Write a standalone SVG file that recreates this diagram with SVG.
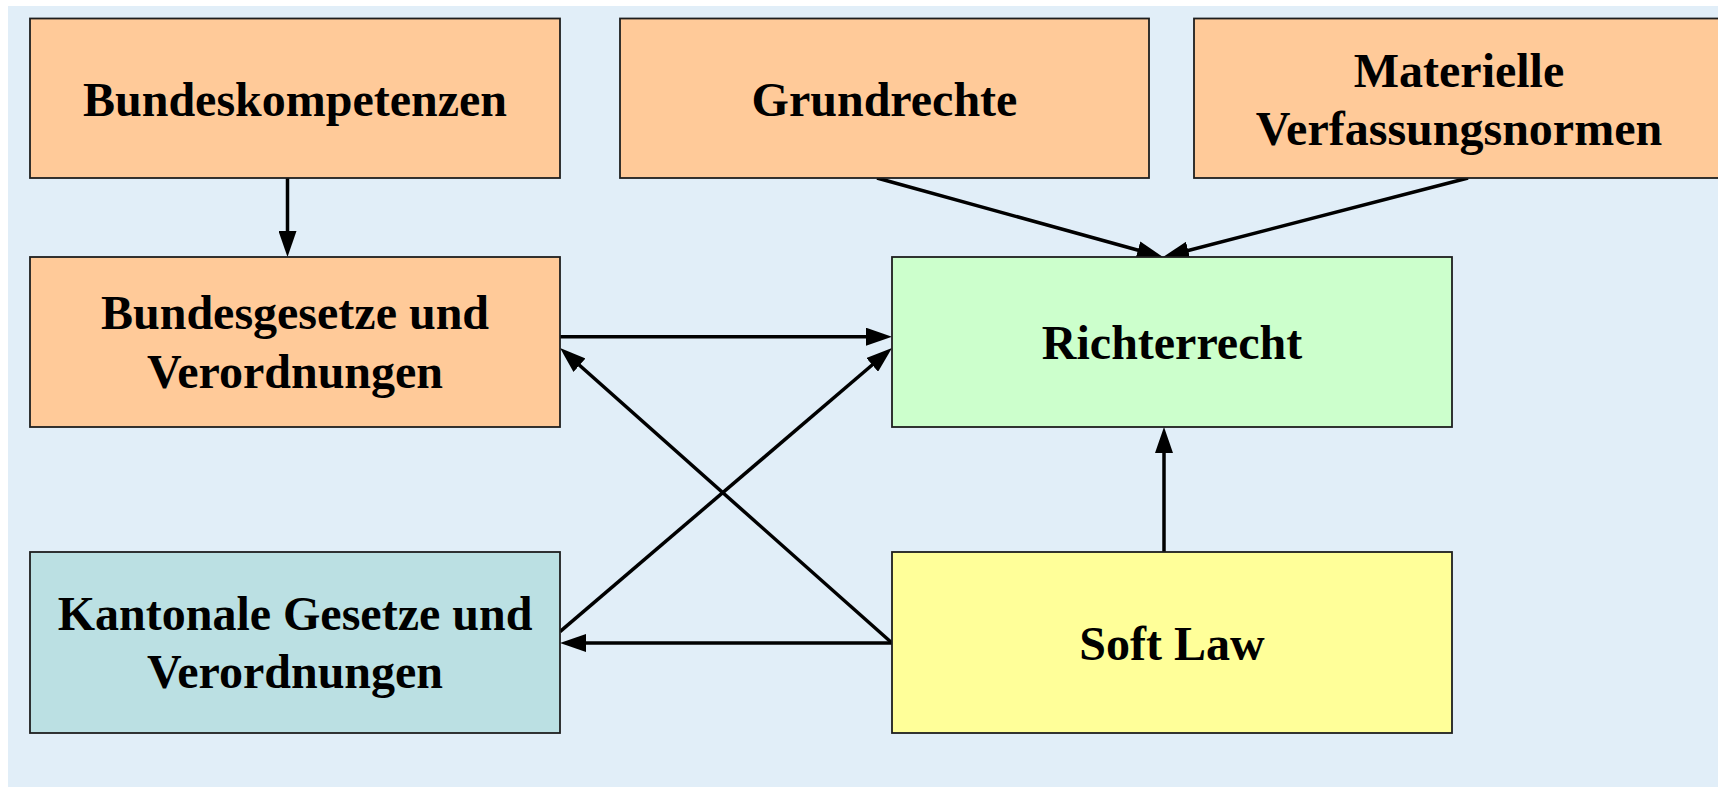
<svg xmlns="http://www.w3.org/2000/svg" width="1718" height="788" viewBox="0 0 1718 788">
<style>
.box{stroke:#1e1e1e;stroke-width:1.8}
.orange{fill:#FFCA99}
.green{fill:#CCFFCC}
.teal{fill:#BBE0E3}
.yellow{fill:#FFFF99}
.lbl{font-family:"Liberation Serif","Times New Roman",serif;font-weight:bold;font-size:48px;fill:#000;text-anchor:middle}
.con{stroke:#000;stroke-width:3.5;fill:none;marker-end:url(#ah)}
</style>
<defs>
<marker id="ah" markerUnits="userSpaceOnUse" markerWidth="26" markerHeight="18" refX="6" refY="9" orient="auto">
<path d="M0,0 L26,9 L0,18 Z" fill="#000"/>
</marker>
</defs>
<rect x="0" y="0" width="1718" height="788" fill="#ffffff"/>
<rect x="8" y="6" width="1710" height="781" fill="#E1EEF8"/>
<g id="connectors">
<line class="con" x1="287.5" y1="178" x2="287.5" y2="237"/>
<line class="con" x1="560" y1="336.7" x2="872" y2="336.7"/>
<line class="con" x1="877" y1="178" x2="1143.7" y2="251.7"/>
<line class="con" x1="1468" y1="178" x2="1182.4" y2="252"/>
<line class="con" x1="560" y1="631.7" x2="876.8" y2="361"/>
<line class="con" x1="892" y1="643" x2="575" y2="361.3"/>
<line class="con" x1="892" y1="643" x2="580" y2="643"/>
<line class="con" x1="1164" y1="553" x2="1164" y2="447"/>
</g>
<g id="bundeskompetenzen">
<rect class="box orange" x="30" y="18.5" width="530" height="159.5"/>
<text class="lbl" x="295" y="116">Bundeskompetenzen</text>
</g>
<g id="grundrechte">
<rect class="box orange" x="620" y="18.5" width="529" height="159.5"/>
<text class="lbl" x="884.5" y="116">Grundrechte</text>
</g>
<g id="materielle">
<rect class="box orange" x="1194" y="18.5" width="530" height="159.5"/>
<text class="lbl" x="1459" y="87">Materielle</text>
<text class="lbl" x="1459" y="145">Verfassungsnormen</text>
</g>
<g id="bundesgesetze">
<rect class="box orange" x="30" y="257" width="530" height="170"/>
<text class="lbl" x="295" y="329">Bundesgesetze und</text>
<text class="lbl" x="295" y="388">Verordnungen</text>
</g>
<g id="richterrecht">
<rect class="box green" x="892" y="257" width="560" height="170"/>
<text class="lbl" x="1172" y="359">Richterrecht</text>
</g>
<g id="kantonale">
<rect class="box teal" x="30" y="552" width="530" height="181"/>
<text class="lbl" x="295" y="630">Kantonale Gesetze und</text>
<text class="lbl" x="295" y="688">Verordnungen</text>
</g>
<g id="softlaw">
<rect class="box yellow" x="892" y="552" width="560" height="181"/>
<text class="lbl" x="1172" y="660">Soft Law</text>
</g>
</svg>
